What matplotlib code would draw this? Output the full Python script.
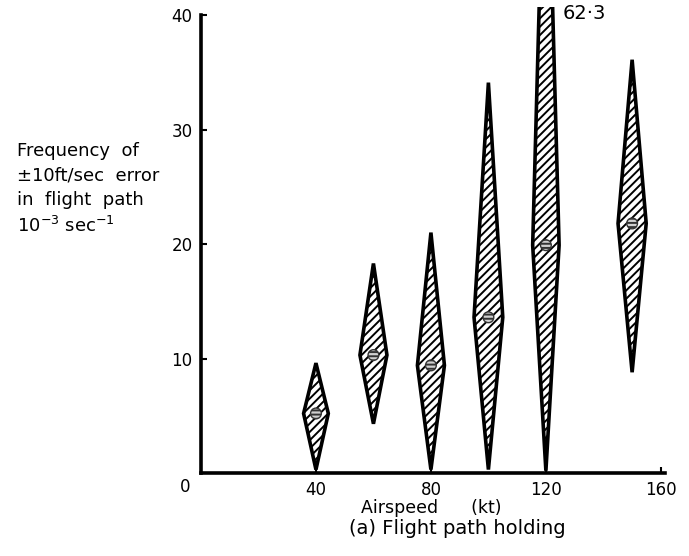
import matplotlib
matplotlib.use("Agg")
import matplotlib.pyplot as plt
from matplotlib.patches import Polygon

plt.rcParams['font.family'] = ['DejaVu Sans']
plt.rcParams['hatch.linewidth'] = 1.4

# Airspeed (kt) and frequency of error (10^-3 sec^-1): range and mean
airspeed = [40, 60, 80, 100, 120, 150]
freq_low = [0.3, 4.3, 0.3, 0.3, 0.2, 8.8]
freq_mean = [5.2, 10.3, 9.4, 13.6, 19.9, 21.8]
freq_high = [9.6, 18.3, 21.0, 34.1, 62.3, 36.1]
half_width = [4.3, 4.7, 4.7, 5.0, 4.6, 4.9]   # kt

x_ticks = [40, 80, 120, 160]
y_ticks = [10, 20, 30, 40]
off_scale_label = "62·3"

fig = plt.figure(figsize=(6.89, 5.56), dpi=100)
ax = fig.add_axes([0.2917, 0.1493, 0.6733, 0.838])
ax.set_xlim(0, 161.4)
ax.set_ylim(0, 40.7)

for x, lo, m, hi, hw in zip(airspeed, freq_low, freq_mean, freq_high, half_width):
    verts = [(x, lo), (x + hw, m), (x, hi), (x - hw, m)]
    poly = Polygon(verts, closed=True, facecolor='white', edgecolor='black',
                   hatch='////', linewidth=2.6, joinstyle='miter')
    ax.add_patch(poly)

ax.scatter(airspeed, freq_mean, s=60, marker='o', facecolor='#d0d0d0',
           edgecolor='#333333', hatch='----', linewidths=1.0, zorder=5)

ax.text(125.9, 40.1, off_scale_label, fontsize=14, ha='left', va='center')

for side in ('top', 'right'):
    ax.spines[side].set_visible(False)
ax.spines['left'].set_linewidth(2.6)
ax.spines['bottom'].set_linewidth(2.6)
ax.spines['left'].set_bounds(0, 40)

ax.set_xticks(x_ticks)
ax.set_yticks(y_ticks)
ax.tick_params(direction='in', length=4, width=1.5, labelsize=12, pad=6)
ax.text(-5.5, -1.2, "0", fontsize=12, ha='center', va='center')

ax.set_xlabel("Airspeed      (kt)", fontsize=12.5, labelpad=4)
ax.xaxis.set_label_coords(80 / 161.4, -0.055)

fig.text(0.025, 0.66, "Frequency  of\n±10ft/sec  error\nin  flight  path\n10$^{-3}$ sec$^{-1}$",
         fontsize=13, ha='left', va='center', linespacing=1.45)
fig.text(0.664, 0.05, "(a) Flight path holding", fontsize=14, ha='center', va='center')

fig.savefig("out.png", dpi=100)
